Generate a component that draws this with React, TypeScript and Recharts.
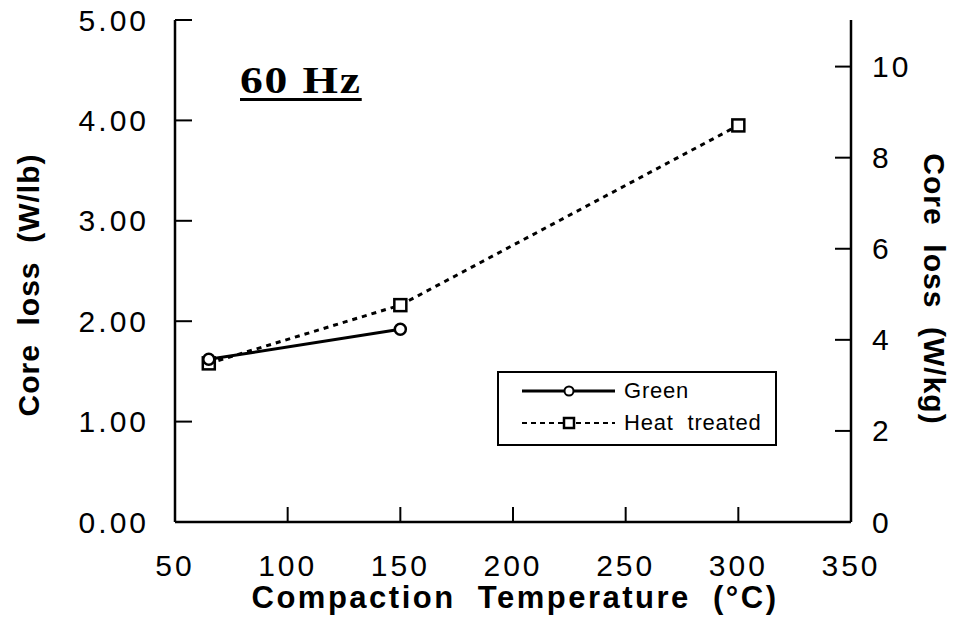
import { Legend, Line, LineChart, XAxis, YAxis } from "recharts";

// compaction temperature (°C) and core loss (W/lb)
const greenTemp = [65, 150];
const greenLoss = [1.62, 1.92];
const heatTemp = [65, 150, 300];
const heatLoss = [1.58, 2.16, 3.95];

const xTicks = [50, 100, 150, 200, 250, 300, 350];
const lbTicks = [0, 1, 2, 3, 4, 5];
const kgTicks = [0, 2, 4, 6, 8, 10];
const LB_TO_KG = 2.2046;

const greenData = greenTemp.map((t, i) => ({ temp: t, loss: greenLoss[i] }));
const heatData = heatTemp.map((t, i) => ({ temp: t, loss: heatLoss[i] }));

const FONT = "'Liberation Sans', Arial, Helvetica, sans-serif";
const tickText = { fontFamily: FONT, fontSize: 30, letterSpacing: 3, fill: "#000" };
const titleText = {
  fontFamily: FONT,
  fontSize: 30,
  fontWeight: 700,
  letterSpacing: 1.5,
  fill: "#000",
  whiteSpace: "pre" as const,
};

function BottomTick({ x, y, payload }: any) {
  return (
    <g>
      <line x1={x} y1={y} x2={x} y2={y - 15} stroke="#000" strokeWidth={2} />
      <text x={x} y={y + 43} textAnchor="middle" dominantBaseline="central" {...tickText}>
        {payload.value}
      </text>
    </g>
  );
}

function LeftTick({ x, y, payload }: any) {
  return (
    <g>
      <line x1={x} y1={y} x2={x + 17} y2={y} stroke="#000" strokeWidth={2} />
      <text x={x - 26} y={y} textAnchor="end" dominantBaseline="central" {...tickText}>
        {payload.value.toFixed(2)}
      </text>
    </g>
  );
}

function RightTick({ x, y, payload }: any) {
  return (
    <g>
      <line x1={x} y1={y} x2={x - 16} y2={y} stroke="#000" strokeWidth={2} />
      <text x={x + 21} y={y} textAnchor="start" dominantBaseline="central" {...tickText}>
        {payload.value}
      </text>
    </g>
  );
}

function SquareDot({ cx, cy }: any) {
  if (cx == null || cy == null) return null;
  return <rect x={cx - 6} y={cy - 6} width={12} height={12} fill="#fff" stroke="#000" strokeWidth={2.5} />;
}

function CircleDot({ cx, cy }: any) {
  if (cx == null || cy == null) return null;
  return <circle cx={cx} cy={cy} r={5.5} fill="#fff" stroke="#000" strokeWidth={2.5} />;
}

function LegendBox() {
  const row = (dash: string | undefined, marker: "circle" | "square", label: string) => (
    <div style={{ display: "flex", alignItems: "center", height: 32 }}>
      <svg width={125} height={20} style={{ flex: "none" }}>
        <line x1={23} y1={10} x2={116} y2={10} stroke="#000" strokeWidth={dash ? 2 : 3} strokeDasharray={dash} />
        {marker === "circle" ? (
          <circle cx={70} cy={10} r={4.5} fill="#fff" stroke="#000" strokeWidth={2} />
        ) : (
          <rect x={65} y={5} width={10} height={10} fill="#fff" stroke="#000" strokeWidth={2.5} />
        )}
      </svg>
      <span style={{ fontFamily: FONT, fontSize: 22, letterSpacing: 0.8, whiteSpace: "pre" }}>{label}</span>
    </div>
  );
  return (
    <div
      style={{
        width: 280,
        height: 75,
        boxSizing: "border-box",
        border: "2px solid #000",
        background: "#fff",
        paddingTop: 2,
      }}
    >
      {row(undefined, "circle", "Green")}
      {row("5 4", "square", "Heat  treated")}
    </div>
  );
}

export default function App() {
  return (
    <div style={{ position: "absolute", left: 0, top: 0, width: 954, height: 623, background: "#fff" }}>
      <LineChart width={954} height={623} margin={{ top: 20, right: 0, bottom: 0, left: 0 }}>
        <XAxis
          dataKey="temp"
          type="number"
          domain={[50, 350]}
          ticks={xTicks}
          height={101}
          tickSize={0}
          tickMargin={0}
          tickLine={false}
          axisLine={{ stroke: "#000", strokeWidth: 2.5 }}
          tick={<BottomTick />}
          interval={0}
          allowDataOverflow
          label={{
            content: () => (
              <text
                x={515}
                y={597}
                textAnchor="middle"
                dominantBaseline="central"
                style={{ ...titleText, fontSize: 31, letterSpacing: 2.5 }}
              >
                Compaction  Temperature  (°C)
              </text>
            ),
          }}
        />
        <XAxis
          xAxisId="top"
          orientation="top"
          type="number"
          domain={[50, 350]}
          height={0}
          tick={false}
          tickLine={false}
          axisLine={{ stroke: "#000", strokeWidth: 2.5 }}
        />
        <YAxis
          yAxisId="lb"
          type="number"
          domain={[0, 5]}
          ticks={lbTicks}
          width={175}
          tickSize={0}
          tickMargin={0}
          tickLine={false}
          axisLine={{ stroke: "#000", strokeWidth: 2.5 }}
          tick={<LeftTick />}
          interval={0}
          allowDataOverflow
          label={{
            content: () => (
              <text
                x={28}
                y={285}
                transform="rotate(-90 28 285)"
                textAnchor="middle"
                dominantBaseline="central"
                style={{ ...titleText, letterSpacing: 1 }}
              >
                Core  loss  (W/lb)
              </text>
            ),
          }}
        />
        <YAxis
          yAxisId="kg"
          orientation="right"
          type="number"
          domain={[0, 5 * LB_TO_KG]}
          ticks={kgTicks}
          width={103}
          tickSize={0}
          tickMargin={0}
          tickLine={false}
          axisLine={{ stroke: "#000", strokeWidth: 2.5 }}
          tick={<RightTick />}
          interval={0}
          allowDataOverflow
          label={{
            content: () => (
              <text
                x={934}
                y={289}
                transform="rotate(90 934 289)"
                textAnchor="middle"
                dominantBaseline="central"
                style={{ ...titleText, letterSpacing: 1 }}
              >
                Core  loss  (W/kg)
              </text>
            ),
          }}
        />
        <Legend
          layout="horizontal"
          verticalAlign="middle"
          align="center"
          content={() => <LegendBox />}
          wrapperStyle={{ position: "absolute", left: 497, top: 371, width: 280, height: 75 }}
        />
        <Line
          yAxisId="lb"
          data={heatData}
          dataKey="loss"
          type="linear"
          stroke="#000"
          strokeWidth={3}
          strokeDasharray="5 5"
          dot={<SquareDot />}
          isAnimationActive={false}
          legendType="none"
        />
        <Line
          yAxisId="lb"
          data={greenData}
          dataKey="loss"
          type="linear"
          stroke="#000"
          strokeWidth={3}
          dot={<CircleDot />}
          isAnimationActive={false}
          legendType="none"
        />
      </LineChart>
      <div
        style={{
          position: "absolute",
          left: 240,
          top: 58,
          fontFamily: "'Liberation Serif', 'Times New Roman', serif",
          fontWeight: 700,
          fontSize: 38,
          letterSpacing: 1.5,
          lineHeight: "44px",
          transform: "scaleX(1.2)",
          transformOrigin: "left top",
          textDecoration: "underline",
          textDecorationThickness: 3,
          textUnderlineOffset: 5,
        }}
      >
        60 Hz
      </div>
    </div>
  );
}
